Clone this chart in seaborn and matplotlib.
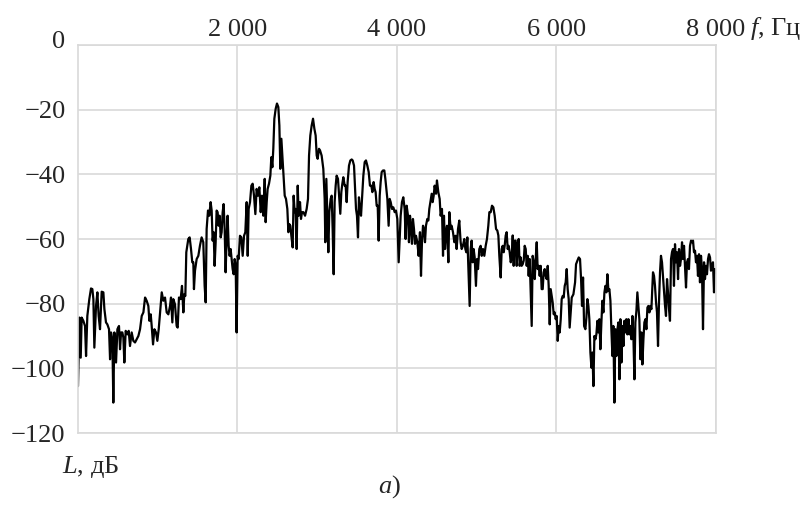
import matplotlib
matplotlib.use("Agg")
import matplotlib.pyplot as plt
import matplotlib.transforms as mtransforms
import seaborn as sns
import pandas as pd

# Spectrum: frequency (Hz) and level (dB)
freq_hz = [
    0, 17, 34, 46, 67, 88, 101, 117, 142, 163,
    180, 193, 205, 226, 243, 259, 276, 297, 318, 331,
    351, 368, 389, 402, 414, 431, 443, 456, 477, 494,
    514, 527, 540, 556, 569, 581, 598, 619, 636, 652,
    673, 694, 715, 736, 757, 778, 799, 820, 841, 861,
    882, 895, 912, 924, 941, 958, 978, 995, 1012, 1029,
    1050, 1070, 1091, 1112, 1133, 1154,
    1166, 1183, 1195, 1216, 1237, 1250, 1266, 1287, 1304, 1321,
    1333, 1346, 1358, 1383, 1400, 1417, 1433,
    1446, 1454, 1467, 1488, 1509, 1529, 1550, 1571, 1588, 1601,
    1613, 1630, 1646, 1663, 1676, 1688, 1701, 1713, 1726, 1738,
    1751, 1763, 1776, 1789, 1801, 1814, 1826, 1839, 1851, 1864,
    1876, 1889, 1901, 1914, 1927, 1939, 1952, 1964, 1977, 1989,
    2002, 2014, 2031, 2048,
    2065, 2082, 2098, 2115, 2128, 2140, 2157, 2174, 2190, 2207,
    2224, 2240, 2257, 2274, 2291, 2307, 2324, 2341, 2353, 2366,
    2378, 2395, 2412, 2424, 2437, 2449, 2462, 2479, 2495, 2512,
    2525, 2537, 2550, 2562, 2575, 2592, 2608, 2625, 2638, 2650,
    2663, 2675, 2692, 2704, 2717, 2729, 2742, 2755, 2767, 2784,
    2796, 2809, 2826, 2847, 2867, 2884, 2897, 2913, 2930, 2947,
    2964, 2980, 2993, 3005, 3022, 3035,
    3055, 3076, 3093, 3101, 3114, 3126, 3139, 3151, 3168, 3181,
    3193, 3206, 3218, 3231, 3243, 3260, 3277, 3289, 3302, 3314,
    3327, 3344, 3356, 3369, 3381, 3398, 3415, 3432, 3444, 3461,
    3473, 3486, 3498, 3511, 3523, 3536, 3549, 3561, 3578, 3595,
    3611, 3628, 3645, 3661, 3678, 3691, 3707, 3720, 3732, 3745,
    3758, 3770, 3783, 3795, 3808, 3824, 3841, 3854, 3866, 3879,
    3895, 3908, 3921, 3937, 3954, 3971, 3987, 4004, 4021,
    4046, 4062, 4079, 4096, 4108, 4121, 4138, 4150, 4163, 4175,
    4188, 4200, 4213, 4226, 4238, 4255, 4271, 4288, 4301, 4313,
    4326, 4338, 4351, 4363, 4380, 4393, 4405, 4418, 4435, 4447,
    4460, 4472, 4489, 4501, 4518, 4535, 4547, 4564, 4577, 4589,
    4602, 4614, 4627, 4644, 4656, 4673, 4685, 4702, 4719, 4735,
    4748, 4765, 4781, 4798, 4811, 4827, 4844, 4857, 4869, 4882,
    4898, 4911, 4924, 4936, 4949, 4961, 4974, 4990, 5003, 5016,
    5032, 5049, 5062, 5078, 5095, 5112, 5128, 5145, 5158,
    5175, 5191, 5208, 5225, 5242, 5258, 5271, 5283, 5300, 5313,
    5325, 5338, 5350, 5363, 5375, 5388, 5400, 5413, 5426, 5438,
    5451, 5463, 5476, 5488, 5501, 5513, 5526, 5538, 5551, 5563,
    5576, 5589, 5601, 5614, 5626, 5639, 5651, 5664, 5676, 5689,
    5701, 5714, 5727, 5739, 5752, 5764, 5777, 5789, 5802, 5814,
    5827, 5839, 5852, 5864, 5877, 5890, 5902, 5915, 5927, 5940,
    5952, 5965, 5977, 5990, 6002, 6015, 6028, 6040, 6053, 6065,
    6078, 6090, 6103, 6115, 6128, 6140, 6153, 6165,
    6191, 6212, 6233, 6245, 6262, 6279, 6295, 6308, 6320, 6333,
    6346, 6362, 6375, 6387, 6400, 6412, 6425, 6438, 6450, 6463,
    6475, 6488, 6500, 6513, 6525, 6538, 6550, 6563, 6575, 6588,
    6601, 6613, 6626, 6638, 6651, 6663, 6676, 6688, 6701, 6713,
    6726, 6738, 6751, 6764, 6776, 6789, 6801, 6814, 6826, 6839,
    6851, 6864, 6876, 6889, 6902, 6914, 6927, 6939, 6952, 6964,
    6977, 6989, 7002, 7014, 7027, 7039, 7052, 7065, 7077, 7090,
    7102, 7115, 7127, 7140, 7152, 7165, 7177, 7190,
    7210, 7223, 7235, 7248, 7260, 7273, 7285, 7298, 7310, 7323,
    7335, 7348, 7361, 7373, 7386, 7398, 7411, 7423, 7436, 7448,
    7461, 7473, 7486, 7498, 7511, 7524, 7536, 7549, 7561, 7574,
    7586, 7599, 7611, 7624, 7636, 7649, 7661, 7674, 7687, 7699,
    7712, 7724, 7737, 7749, 7762, 7774, 7787, 7799, 7812, 7824,
    7837, 7850, 7862, 7875, 7887, 7900, 7912, 7925, 7937, 7950,
    7962, 7975, 7987, 8000,
]

level_db = [
    -105.5, -84.3, -96.7, -84.3, -85.3, -86.9, -96.2, -83.8, -78.6, -75.3,
    -75.5, -78.6, -93.6, -80.7, -76.5, -83.8, -87.9, -76.3, -76.5, -81.7,
    -85.8, -86.4, -87.9, -97.2, -88.9, -91.0, -110.6, -88.9, -98.2, -87.9,
    -86.9, -94.1, -88.9, -88.9, -90.5, -98.2, -88.4, -89.5, -88.4, -93.1,
    -88.9, -91.5, -92.0, -91.0, -90.0, -87.9, -83.8, -82.7, -78.1, -79.1,
    -80.7, -85.3, -83.3, -86.9, -92.6, -87.9, -88.9, -91.5, -87.9, -82.7,
    -76.5, -79.1, -78.1, -82.7, -83.3, -80.7,
    -78.1, -85.8, -78.6, -80.2, -86.9, -87.4, -78.1, -78.6, -74.5, -82.7,
    -77.1, -77.6, -64.1, -60.0, -59.5, -63.1, -67.2,
    -67.2, -75.5, -69.8, -66.2, -65.2, -62.1, -59.5, -61.0, -74.5, -79.6,
    -56.9, -51.2, -52.8, -48.6, -51.2, -60.5, -57.9, -68.3, -61.0, -51.2,
    -51.7, -55.9, -52.8, -59.5, -57.9, -51.7, -49.2, -56.9, -70.3, -59.5,
    -52.8, -62.1, -65.2, -63.1, -66.2, -69.3, -70.9, -66.2, -68.0, -88.9,
    -65.2, -66.2, -59.0, -59.5,
    -65.2, -59.0, -57.9, -48.6, -65.2, -50.7, -48.6, -43.5, -42.9, -46.6,
    -52.3, -44.5, -46.6, -44.0, -51.7, -46.6, -52.8, -41.4, -54.8, -48.6,
    -44.5, -42.9, -40.4, -34.7, -37.8, -32.1, -22.8, -19.7, -18.1, -19.2,
    -24.9, -38.3, -29.0, -34.2, -40.4, -46.6, -47.6, -50.7, -57.9, -55.4,
    -55.9, -59.0, -62.6, -46.6, -51.7, -50.7, -63.1, -43.5, -52.8, -48.6,
    -53.8, -51.7, -51.7, -52.8, -50.7, -47.6, -34.2, -28.0, -24.9, -22.8,
    -25.9, -28.0, -34.2, -35.2, -32.1, -32.6,
    -34.2, -38.3, -47.6, -61.0, -41.4, -52.8, -64.1, -51.7, -47.6, -46.6,
    -56.9, -70.9, -48.6, -43.5, -40.4, -41.4, -47.6, -52.2, -45.5, -43.0,
    -40.9, -43.5, -43.5, -48.6, -42.4, -37.3, -35.7, -35.4, -35.7, -37.3,
    -43.5, -50.7, -52.8, -59.5, -47.1, -50.7, -52.8, -47.6, -40.4, -36.2,
    -35.7, -37.3, -39.3, -43.5, -43.5, -45.5, -42.4, -44.5, -45.5, -49.7,
    -49.7, -60.5, -46.6, -42.4, -39.3, -38.8, -38.8, -41.4, -44.5, -47.6,
    -55.9, -47.6, -48.6, -50.7, -50.2, -51.7, -51.2, -53.8, -67.2,
    -52.8, -48.6, -47.1, -50.7, -60.0, -49.7, -52.8, -61.0, -52.8, -55.9,
    -61.5, -53.8, -56.9, -61.5, -59.0, -61.0, -65.2, -57.9, -71.4, -61.0,
    -55.9, -56.9, -61.0, -55.9, -53.8, -54.3, -50.7, -48.6, -46.0, -48.6,
    -46.6, -43.5, -46.0, -41.9, -45.5, -47.6, -52.8, -50.7, -65.2, -52.8,
    -63.1, -57.9, -55.9, -67.2, -51.7, -56.9, -55.9, -57.9, -61.0, -59.0,
    -63.1, -56.9, -54.3, -61.0, -63.1, -62.1, -60.0, -63.1, -64.1, -59.5,
    -71.4, -80.7, -63.1, -60.5, -67.2, -63.1, -65.7, -74.5, -66.2, -69.3,
    -63.1, -62.1, -65.2, -63.1, -65.2, -62.1, -60.0, -55.9, -51.7,
    -51.7, -49.7, -50.2, -52.8, -56.9, -57.4, -58.9, -65.2, -71.9, -63.1,
    -62.1, -64.1, -62.1, -58.9, -57.9, -63.1, -62.1, -64.1, -67.2, -65.7,
    -58.9, -68.3, -60.5, -60.5, -68.3, -61.6, -60.0, -68.3, -65.7, -68.3,
    -67.8, -66.7, -62.1, -63.1, -68.3, -65.2, -71.4, -66.2, -76.5, -86.9,
    -65.2, -67.2, -72.4, -66.2, -61.0, -69.3, -68.3, -71.4, -68.3, -75.5,
    -75.5, -70.3, -69.3, -71.4, -72.4, -68.3, -74.5, -86.4, -75.5, -77.6,
    -79.6, -83.3, -82.7, -84.8, -83.8, -91.5, -86.9, -88.9, -84.8, -78.6,
    -77.6, -78.1, -74.5, -73.4, -69.3, -75.5, -78.6, -87.4,
    -78.1, -77.1, -73.4, -67.8, -66.7, -65.7, -66.2, -72.4, -80.7, -71.9,
    -86.9, -87.9, -84.3, -78.6, -80.7, -84.8, -95.1, -99.8, -95.1, -105.5,
    -90.0, -91.0, -89.5, -85.3, -88.9, -84.8, -94.1, -85.8, -79.1, -82.7,
    -76.5, -74.5, -76.5, -70.9, -76.0, -75.5, -79.1, -87.9, -96.2, -86.9,
    -110.6, -87.9, -96.2, -87.9, -85.8, -103.4, -84.8, -98.2, -86.9, -93.1,
    -85.3, -88.9, -84.8, -89.5, -84.8, -89.5, -86.9, -91.0, -83.8, -90.0,
    -103.4, -85.8, -82.2, -76.5, -80.7, -84.8, -97.2, -88.9, -98.8, -91.0,
    -85.8, -84.8, -87.9, -81.2, -80.7, -82.7, -80.7, -81.7,
    -70.3, -71.4, -74.5, -79.6, -82.7, -93.1, -79.6, -70.3, -65.2, -67.2,
    -71.4, -75.5, -80.7, -83.8, -72.4, -76.5, -81.7, -85.3, -66.2, -64.1,
    -63.1, -74.5, -61.6, -67.2, -64.1, -72.4, -63.1, -68.3, -66.2, -61.0,
    -66.2, -62.1, -68.3, -75.0, -67.2, -66.2, -69.3, -62.1, -60.5, -61.0,
    -60.5, -64.1, -63.6, -67.2, -65.2, -71.4, -64.7, -73.4, -65.2, -69.3,
    -87.9, -67.2, -72.4, -68.3, -70.9, -66.2, -64.7, -65.7, -69.8, -68.3,
    -67.2, -76.5, -69.3, -70.3,
]

x_ticks = [2000, 4000, 6000, 8000]
x_tick_labels = ["2 000", "4 000", "6 000", "8 000"]
y_ticks = [0, -20, -40, -60, -80, -100, -120]
y_tick_labels = ["0", "\u221220", "\u221240", "\u221260", "\u221280", "\u2212100", "\u2212120"]

df = pd.DataFrame({"f": freq_hz, "L": level_db})

sns.set_theme(style="white")
plt.rcParams["font.family"] = ["Liberation Serif", "DejaVu Serif"]
plt.rcParams["mathtext.fontset"] = "custom"
plt.rcParams["mathtext.rm"] = "Liberation Serif"
plt.rcParams["mathtext.it"] = "Liberation Serif:italic"

grid_color = "#d9d9d9"
fs = 19

fig = plt.figure(figsize=(8.04, 5.05), dpi=100)
ax = fig.add_axes([78 / 804, 1 - 433 / 505, 638 / 804, 388 / 505])

# Spectrum line
sns.lineplot(data=df, x="f", y="L", color="black", linewidth=1.6,
             estimator=None, sort=False, ax=ax)

ax.set_xlim(0, 8000)
ax.set_ylim(-120, 0)

# Axis at the top, labels on top
ax.xaxis.set_ticks_position("top")
ax.set_xticks(x_ticks)
ax.set_xticklabels(x_tick_labels)
ax.set_yticks(y_ticks)
ax.set_yticklabels(y_tick_labels)
ax.tick_params(axis="x", top=True, labeltop=True, bottom=False, labelbottom=False,
               length=0, pad=3, labelsize=fs)
ax.tick_params(axis="y", length=0, pad=9, labelsize=fs)
ax.set_xlabel("")
ax.set_ylabel("")

# the "0" label sits a little higher in the original
zero_label = ax.get_yticklabels()[0]
zero_label.set_transform(zero_label.get_transform()
                         + mtransforms.ScaledTranslation(0, 5 / 100, fig.dpi_scale_trans))

# Grid and frame
ax.grid(True, color=grid_color, linewidth=1.2)
ax.set_axisbelow(True)
for side in ["top", "left", "right", "bottom"]:
    ax.spines[side].set_color(grid_color)
    ax.spines[side].set_linewidth(1.2)

# Axis names and panel label
fig.text(750 / 804, 1 - 28 / 505, "$f$, Гц", fontsize=fs, ha="left", va="center")
fig.text(62 / 804, 1 - 467 / 505, "$L$, дБ", fontsize=fs, ha="left", va="center")
fig.text(389 / 804, 1 - 487 / 505, "$а$)", fontsize=fs, ha="center", va="center")

plt.savefig("out.png", dpi=100)
print("saved")
